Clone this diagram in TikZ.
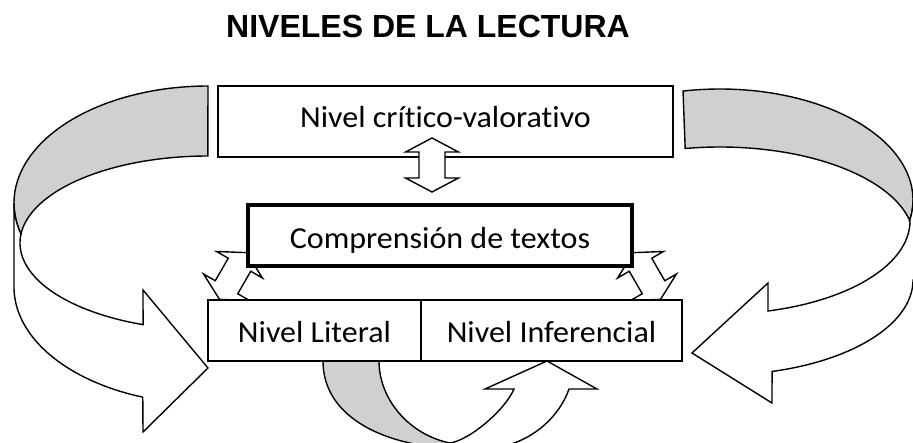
\documentclass[tikz,border=0pt]{standalone}
\usepackage{fontspec}
\setmainfont{Carlito}[Ligatures={NoCommon},FakeStretch=1.05]
\newfontfamily\titlefont{Liberation Sans}
\definecolor{backgray}{RGB}{208,208,208}
\newcommand\myarc[6]{plot[domain=0:1,samples=80,variable=\u] ({#1+#3*cos(#5+(#6-#5)*\u)},{#2+#4*sin(#5+(#6-#5)*\u)})}
\newcommand\toarc[6]{-- plot[domain=0:1,samples=80,variable=\u] ({#1+#3*cos(#5+(#6-#5)*\u)},{#2+#4*sin(#5+(#6-#5)*\u)})}
\begin{document}
\begin{tikzpicture}[x=1pt,y=-1pt,line join=miter,
  shapeline/.style={draw=black,line width=1.4pt},
  box/.style={draw=black,line width=1.3pt,fill=white,inner sep=0pt,outer sep=0pt,text depth=0pt,font=\fontsize{30.5}{36}\selectfont},
  dblarrow/.pic={\draw[shapeline,fill=white] (0,-27) -- (26.5,-13) -- (13,-13) -- (13,13) -- (26.5,13) -- (0,27) -- (-26.5,13) -- (-13,13) -- (-13,-13) -- (-26.5,-13) -- cycle;}]
\useasboundingbox (0,0) rectangle (913,443);
\begin{scope}
\clip (0,0) rectangle (913,443);
% left curved arrow
\draw[shapeline,fill=backgray] \myarc{208}{203}{194}{117}{270}{164.6} \toarc{208}{243}{188}{87}{185.9}{270} -- cycle;
\draw[shapeline,fill=white] (14,203) -- (14,287) \toarc{208}{287}{194}{117}{180}{109.6} -- (143,432) -- (208,368) -- (143,290) \toarc{208}{243}{188}{87}{110.2}{185.9} \toarc{208}{203}{194}{117}{164.6}{180} -- cycle;
% right curved arrow
\draw[shapeline,fill=backgray] \myarc{720}{200}{193}{111}{258.95}{370.9} \toarc{720}{240}{194}{93}{348.2}{259.6} -- cycle;
\draw[shapeline,fill=white] (916,200) -- (916,280) \toarc{720}{280}{193}{95}{0}{74.4} -- (772,403) -- (692,353) -- (768,283) \toarc{720}{221}{190}{93}{75.37}{0} \toarc{720}{200}{193}{111}{10.9}{0} -- cycle;
% bottom curved arrow
\draw[shapeline,fill=backgray] (323,361) .. controls (323,420) and (390,446) .. (450,448) -- (450,443) .. controls (410,435) and (379,400) .. (379,361) -- cycle;
\draw[shapeline,fill=white] (450,443) .. controls (470,440) and (505,410) .. (514,389) -- (485,389) -- (547,361) -- (597,389) -- (569,389) .. controls (560,415) and (535,440) .. (500,447) -- (455,452) -- cycle;
\end{scope}
% top box and arrows
\node[box,text height=11.6pt,minimum width=455pt,minimum height=71pt] (critico) at (445.5,121.5) {Nivel crítico-valorativo};
\pic at (432,165) {dblarrow};
\pic[rotate=-30] at (233,276) {dblarrow};
\pic[rotate=30] at (647,276) {dblarrow};
\node[box,text height=26pt,line width=4pt,minimum width=384pt,minimum height=61pt] (comp) at (440,235.5) {Comprensión de textos};
\node[box,text height=23.6pt,minimum width=213pt,minimum height=61pt] (literal) at (314.5,330.5) {Nivel Literal};
\node[box,text height=23.6pt,minimum width=261pt,minimum height=61pt] (infer) at (551.5,330.5) {Nivel Inferencial};
\node[font=\titlefont\bfseries\fontsize{32}{36}\selectfont] (title) at (428,26) {NIVELES DE LA LECTURA};
\end{tikzpicture}
\end{document}
